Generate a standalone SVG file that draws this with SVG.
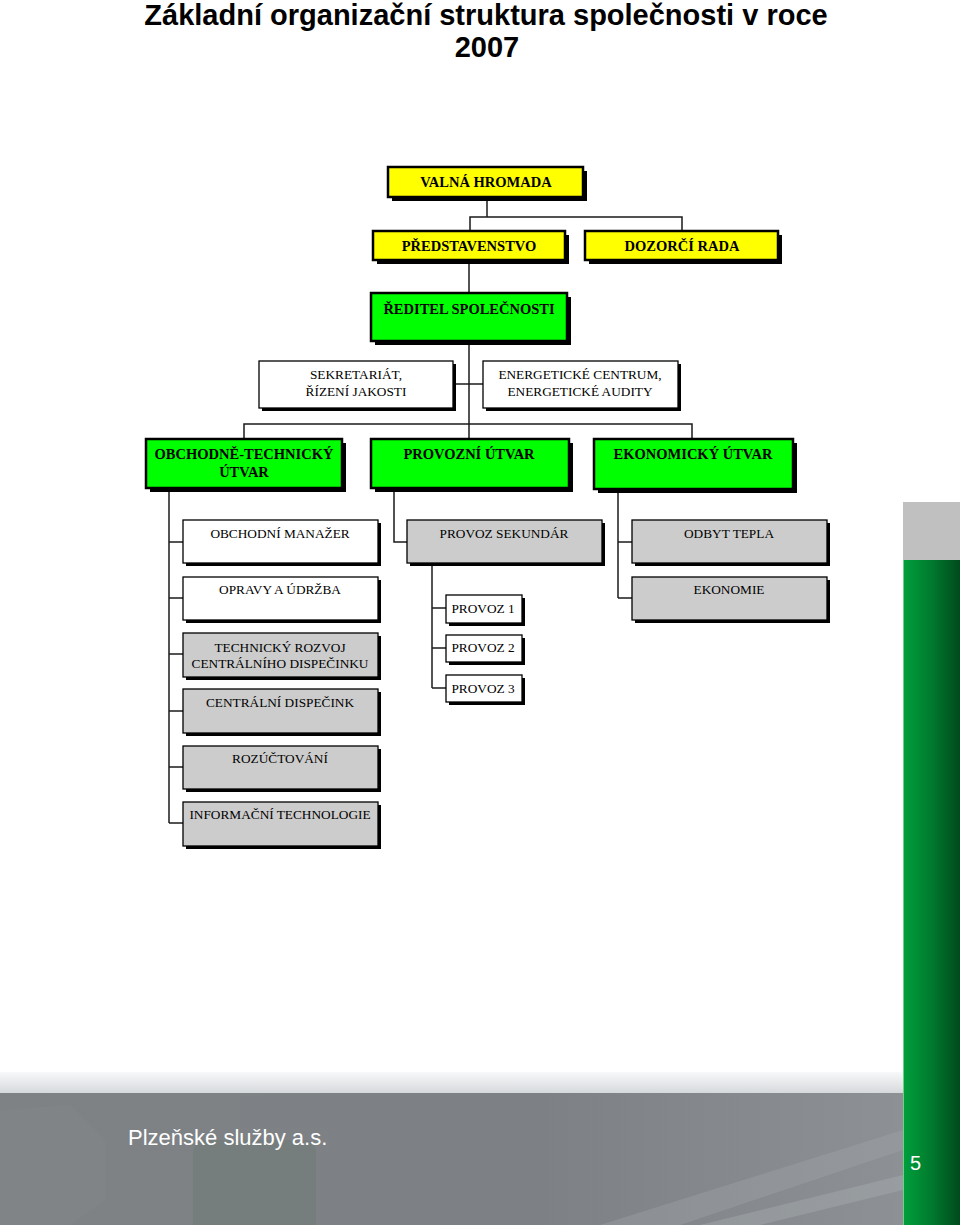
<svg xmlns="http://www.w3.org/2000/svg" width="960" height="1225" viewBox="0 0 960 1225">
<defs>
<linearGradient id="gbar" x1="0" y1="0" x2="1" y2="0">
<stop offset="0" stop-color="#00a03c"/>
<stop offset="0.5" stop-color="#007a2e"/>
<stop offset="1" stop-color="#004a1c"/>
</linearGradient>
<linearGradient id="band" x1="0" y1="0" x2="0" y2="1">
<stop offset="0" stop-color="#f7f8fa"/>
<stop offset="1" stop-color="#d6d9dc"/>
</linearGradient>
<linearGradient id="foot" x1="0" y1="0" x2="1" y2="0">
<stop offset="0" stop-color="#7e8285"/>
<stop offset="0.6" stop-color="#7d8185"/>
<stop offset="1" stop-color="#8d9195"/>
</linearGradient>
</defs>
<style>
.title{font-family:"Liberation Sans",Arial,sans-serif;font-weight:bold;font-size:29px;fill:#000;text-anchor:middle}
.hb{font-family:"Liberation Serif","Times New Roman",serif;font-weight:bold;font-size:14.5px;fill:#000;text-anchor:middle}
.t{font-family:"Liberation Serif","Times New Roman",serif;font-size:13.3px;fill:#000;text-anchor:middle}
.sh{fill:#000}
.heavy{stroke:#000;stroke-width:2.5}
.thin{stroke:#000;stroke-width:1.3}
.y{fill:#ffff00}
.g{fill:#00ff00}
.w{fill:#ffffff}
.gr{fill:#cccccc}
.con line,.con polyline{stroke:#1a1a1a;stroke-width:1.5;fill:none}
.foot{font-family:"Liberation Sans",Arial,sans-serif;fill:#ffffff}
</style>
<rect width="960" height="1225" fill="#ffffff"/>

<text class="title" x="486" y="25">Základní organizační struktura společnosti v roce</text>
<text class="title" x="487" y="57">2007</text>

<g id="connectors" class="con">
<line x1="487" y1="197" x2="487" y2="217"/>
<polyline points="470,231 470,217 682,217 682,231"/>
<line x1="469" y1="260" x2="469" y2="293"/>
<line x1="469" y1="341" x2="469" y2="439"/>
<line x1="453" y1="384" x2="483" y2="384"/>
<polyline points="244,439 244,424 692,424 692,439"/>
<line x1="169" y1="488" x2="169" y2="823"/>
<line x1="169" y1="542" x2="183" y2="542"/>
<line x1="169" y1="598" x2="183" y2="598"/>
<line x1="169" y1="654" x2="183" y2="654"/>
<line x1="169" y1="711" x2="183" y2="711"/>
<line x1="169" y1="767" x2="183" y2="767"/>
<line x1="169" y1="823" x2="183" y2="823"/>
<polyline points="394,488 394,542 407,542"/>
<line x1="432" y1="563" x2="432" y2="688"/>
<line x1="432" y1="608" x2="446" y2="608"/>
<line x1="432" y1="648" x2="446" y2="648"/>
<line x1="432" y1="688" x2="446" y2="688"/>
<line x1="618" y1="489" x2="618" y2="598"/>
<line x1="618" y1="542" x2="632" y2="542"/>
<line x1="618" y1="598" x2="632" y2="598"/>
</g>

<g id="valna-hromada">
<rect class="sh" x="392" y="171" width="195" height="30"/>
<rect class="y heavy" x="388" y="167" width="195" height="30"/>
<text class="hb" x="486" y="187">VALNÁ HROMADA</text>
</g>
<g id="predstavenstvo">
<rect class="sh" x="377" y="235" width="192" height="29"/>
<rect class="y heavy" x="373" y="231" width="192" height="29"/>
<text class="hb" x="469" y="251">PŘEDSTAVENSTVO</text>
</g>
<g id="dozorci-rada">
<rect class="sh" x="589" y="235" width="193" height="29"/>
<rect class="y heavy" x="585" y="231" width="193" height="29"/>
<text class="hb" x="682" y="251">DOZORČÍ RADA</text>
</g>
<g id="reditel">
<rect class="sh" x="375" y="297" width="196" height="48"/>
<rect class="g heavy" x="371" y="293" width="196" height="48"/>
<text class="hb" x="469" y="314">ŘEDITEL SPOLEČNOSTI</text>
</g>
<g id="sekretariat">
<rect class="sh" x="262" y="364" width="194" height="47"/>
<rect class="w thin" x="259" y="361" width="194" height="47"/>
<text class="t" x="356" y="379">SEKRETARIÁT,</text>
<text class="t" x="356" y="396">ŘÍZENÍ JAKOSTI</text>
</g>
<g id="energeticke-centrum">
<rect class="sh" x="486" y="364" width="195" height="47"/>
<rect class="w thin" x="483" y="361" width="195" height="47"/>
<text class="t" x="580" y="379">ENERGETICKÉ CENTRUM,</text>
<text class="t" x="580" y="396">ENERGETICKÉ AUDITY</text>
</g>
<g id="obchodne-technicky">
<rect class="sh" x="150" y="443" width="196" height="49"/>
<rect class="g heavy" x="146" y="439" width="196" height="49"/>
<text class="hb" x="244" y="459">OBCHODNĚ-TECHNICKÝ</text>
<text class="hb" x="244" y="477">ÚTVAR</text>
</g>
<g id="provozni-utvar">
<rect class="sh" x="375" y="443" width="198" height="49"/>
<rect class="g heavy" x="371" y="439" width="198" height="49"/>
<text class="hb" x="469" y="459">PROVOZNÍ ÚTVAR</text>
</g>
<g id="ekonomicky-utvar">
<rect class="sh" x="598" y="443" width="199" height="50"/>
<rect class="g heavy" x="594" y="439" width="199" height="50"/>
<text class="hb" x="693" y="459">EKONOMICKÝ ÚTVAR</text>
</g>

<g id="obchodni-manazer">
<rect class="sh" x="186" y="523" width="195" height="43"/>
<rect class="w thin" x="183" y="520" width="195" height="43"/>
<text class="t" x="280" y="538">OBCHODNÍ MANAŽER</text>
</g>
<g id="opravy-udrzba">
<rect class="sh" x="186" y="580" width="195" height="43"/>
<rect class="w thin" x="183" y="577" width="195" height="43"/>
<text class="t" x="280" y="594">OPRAVY A ÚDRŽBA</text>
</g>
<g id="technicky-rozvoj">
<rect class="sh" x="186" y="636" width="195" height="44"/>
<rect class="gr thin" x="183" y="633" width="195" height="44"/>
<text class="t" x="280" y="652">TECHNICKÝ ROZVOJ</text>
<text class="t" x="280" y="668">CENTRÁLNÍHO DISPEČINKU</text>
</g>
<g id="centralni-dispecink">
<rect class="sh" x="186" y="692" width="195" height="44"/>
<rect class="gr thin" x="183" y="689" width="195" height="44"/>
<text class="t" x="280" y="707">CENTRÁLNÍ DISPEČINK</text>
</g>
<g id="rozuctovani">
<rect class="sh" x="186" y="749" width="195" height="43"/>
<rect class="gr thin" x="183" y="746" width="195" height="43"/>
<text class="t" x="280" y="763">ROZÚČTOVÁNÍ</text>
</g>
<g id="informacni-technologie">
<rect class="sh" x="186" y="805" width="195" height="44"/>
<rect class="gr thin" x="183" y="802" width="195" height="44"/>
<text class="t" x="280" y="819">INFORMAČNÍ TECHNOLOGIE</text>
</g>

<g id="provoz-sekundar">
<rect class="sh" x="410" y="523" width="195" height="43"/>
<rect class="gr thin" x="407" y="520" width="195" height="43"/>
<text class="t" x="504" y="538">PROVOZ SEKUNDÁR</text>
</g>
<g id="provoz-1">
<rect class="sh" x="449" y="598" width="76" height="28"/>
<rect class="w thin" x="446" y="595" width="76" height="28"/>
<text class="t" x="483" y="613">PROVOZ 1</text>
</g>
<g id="provoz-2">
<rect class="sh" x="449" y="638" width="76" height="27"/>
<rect class="w thin" x="446" y="635" width="76" height="27"/>
<text class="t" x="483" y="652">PROVOZ 2</text>
</g>
<g id="provoz-3">
<rect class="sh" x="449" y="678" width="76" height="27"/>
<rect class="w thin" x="446" y="675" width="76" height="27"/>
<text class="t" x="483" y="693">PROVOZ 3</text>
</g>

<g id="odbyt-tepla">
<rect class="sh" x="635" y="523" width="195" height="43"/>
<rect class="gr thin" x="632" y="520" width="195" height="43"/>
<text class="t" x="729" y="538">ODBYT TEPLA</text>
</g>
<g id="ekonomie">
<rect class="sh" x="635" y="580" width="195" height="43"/>
<rect class="gr thin" x="632" y="577" width="195" height="43"/>
<text class="t" x="729" y="594">EKONOMIE</text>
</g>

<!-- decoration -->
<rect x="903" y="502" width="57" height="58" fill="#c0c0c0"/>
<rect x="903" y="560" width="57" height="665" fill="url(#gbar)"/>
<line x1="903.5" y1="560" x2="903.5" y2="1225" stroke="#6fd08a" stroke-width="1"/>

<rect x="0" y="1072" width="903" height="21" fill="url(#band)"/>
<rect x="0" y="1093" width="903" height="132" fill="url(#foot)"/>
<polygon points="0,1110 70,1105 105,1140 105,1200 70,1225 0,1225" fill="#868a8d" opacity="0.35"/>
<rect x="193" y="1140" width="123" height="95" rx="12" fill="#6f7b78" opacity="0.6"/>
<polygon points="600,1225 903,1130 903,1150 680,1225" fill="#a3a7ab" opacity="0.35"/>
<polygon points="700,1225 903,1175 903,1190 760,1225" fill="#b0b4b8" opacity="0.35"/>
<text class="foot" x="128" y="1145" font-size="22">Plzeňské služby a.s.</text>
<text class="foot" x="910" y="1170" font-size="20">5</text>
</svg>
